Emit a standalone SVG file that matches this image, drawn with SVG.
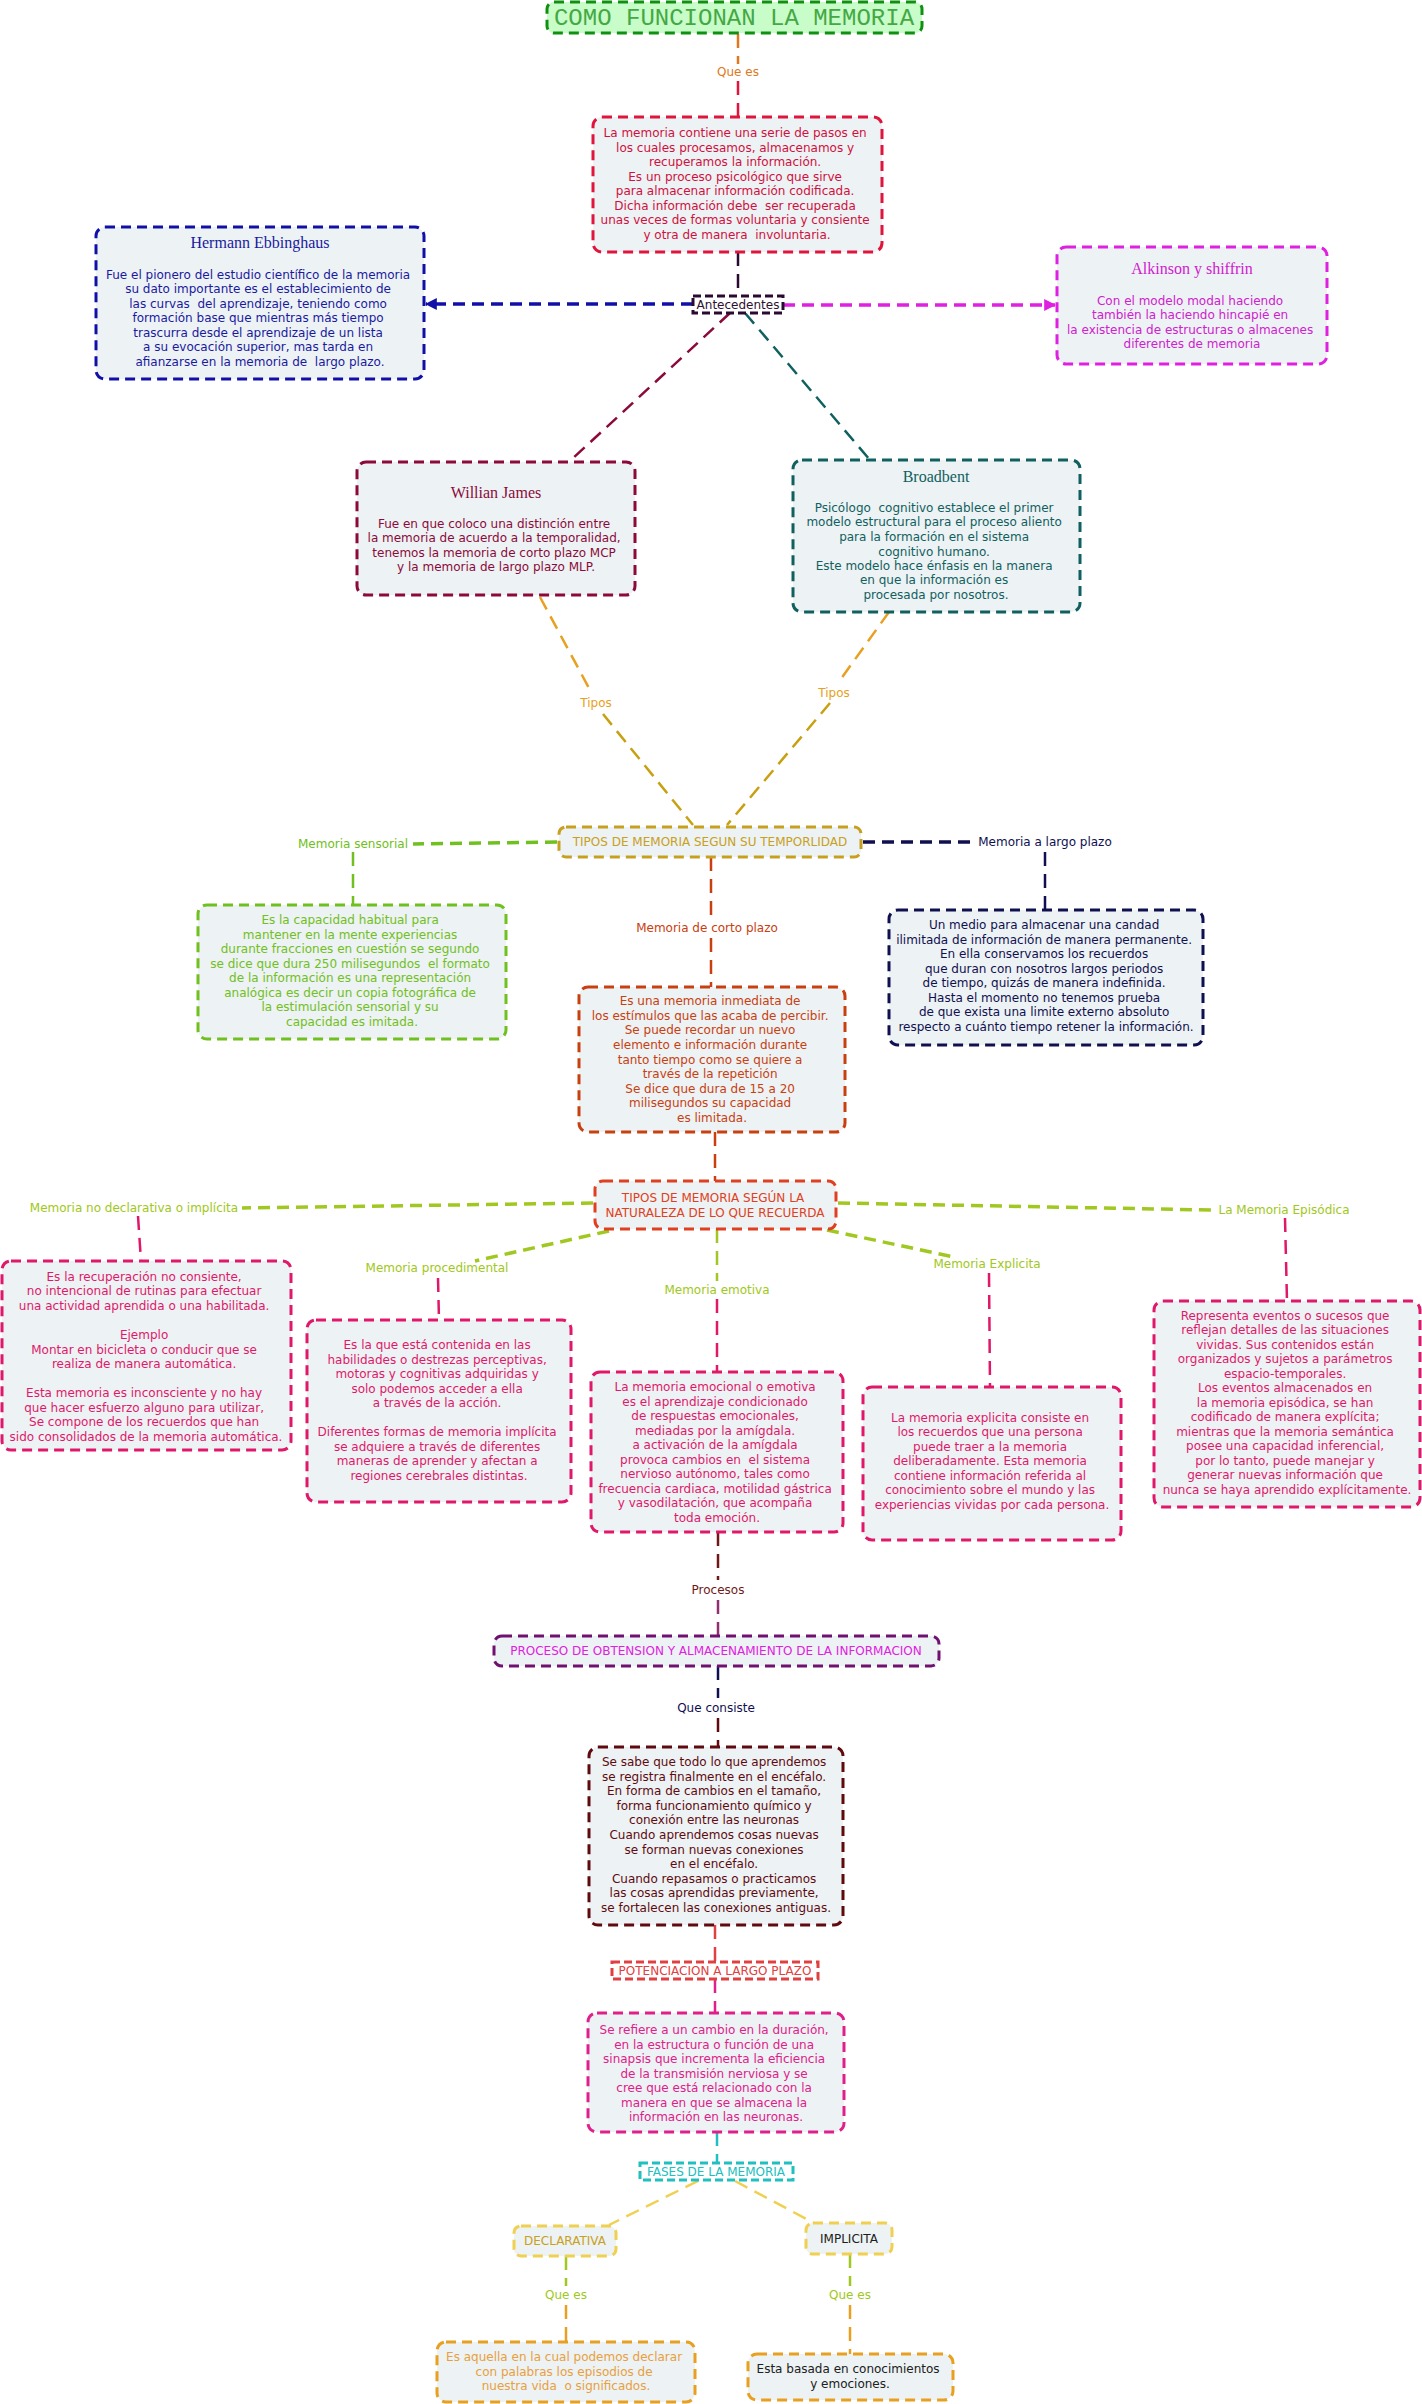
<svg xmlns="http://www.w3.org/2000/svg" width="1422" height="2404" viewBox="0 0 1422 2404">
<defs>
<style>
.box{fill:#edf2f4;stroke-width:3;stroke-dasharray:10 6}
.t{font-family:"DejaVu Sans",Verdana,sans-serif;font-size:12px;text-anchor:middle}
.h{font-family:"Liberation Serif","Times New Roman",serif;font-size:16px;text-anchor:middle}
.c{fill:none;stroke-width:2.5;stroke-dasharray:14 8}
.ct{fill:none;stroke-width:3.5;stroke-dasharray:12 7}
</style>
<marker id="arB" viewBox="0 0 10 10" refX="9" refY="5" markerWidth="12" markerHeight="12" markerUnits="userSpaceOnUse" orient="auto"><path d="M0,0 L10,5 L0,10 z" fill="#1010a8"/></marker>
<marker id="arM" viewBox="0 0 10 10" refX="9" refY="5" markerWidth="12" markerHeight="12" markerUnits="userSpaceOnUse" orient="auto"><path d="M0,0 L10,5 L0,10 z" fill="#e020e0"/></marker>
</defs>
<rect x="0" y="0" width="1422" height="2404" fill="#ffffff"/>

<g id="connectors">
<line class="c" x1="738" y1="34" x2="738" y2="64" stroke="#e07820"/>
<line class="c" x1="738" y1="81" x2="738" y2="117" stroke="#e0143c"/>
<line class="c" x1="738" y1="252" x2="738" y2="296" stroke="#2a0a30"/>
<line class="ct" x1="693" y1="304" x2="426" y2="304" stroke="#1010a8" marker-end="url(#arB)"/>
<line class="ct" x1="783" y1="305" x2="1055" y2="305" stroke="#e020e0" marker-end="url(#arM)"/>
<line class="c" x1="730" y1="313" x2="571" y2="460" stroke="#8b0a3a"/>
<line class="c" x1="745" y1="313" x2="870" y2="460" stroke="#106060"/>
<line class="c" x1="540" y1="597" x2="590" y2="690" stroke="#e8a020"/>
<line class="c" x1="603" y1="714" x2="693" y2="825" stroke="#c8a010"/>
<line class="c" x1="889" y1="612" x2="838" y2="683" stroke="#e8a020"/>
<line class="c" x1="830" y1="703" x2="727" y2="825" stroke="#c8a010"/>
<line class="ct" x1="557" y1="842" x2="413" y2="844" stroke="#70c020"/>
<line class="c" x1="353" y1="852" x2="353" y2="905" stroke="#70c020"/>
<line class="ct" x1="863" y1="842" x2="974" y2="842" stroke="#101050"/>
<line class="c" x1="1045" y1="852" x2="1045" y2="910" stroke="#101050"/>
<line class="c" x1="711" y1="857" x2="711" y2="918" stroke="#c84010"/>
<line class="c" x1="711" y1="938" x2="711" y2="987" stroke="#c84010"/>
<line class="c" x1="715" y1="1132" x2="715" y2="1181" stroke="#c84010"/>
<line class="ct" x1="593" y1="1203" x2="242" y2="1208" stroke="#a0c820"/>
<line class="c" x1="138" y1="1216" x2="141" y2="1261" stroke="#e0186a"/>
<line class="ct" x1="609" y1="1231" x2="475" y2="1261" stroke="#a0c820"/>
<line class="c" x1="438" y1="1278" x2="439" y2="1320" stroke="#e0186a"/>
<line class="c" x1="717" y1="1229" x2="717" y2="1281" stroke="#a0c820"/>
<line class="c" x1="717" y1="1299" x2="717" y2="1372" stroke="#e0186a"/>
<line class="ct" x1="827" y1="1230" x2="954" y2="1257" stroke="#a0c820"/>
<line class="c" x1="989" y1="1273" x2="990" y2="1387" stroke="#e0186a"/>
<line class="ct" x1="838" y1="1203" x2="1211" y2="1210" stroke="#a0c820"/>
<line class="c" x1="1285" y1="1218" x2="1287" y2="1301" stroke="#e0186a"/>
<line class="c" x1="718" y1="1532" x2="718" y2="1580" stroke="#701818"/>
<line class="c" x1="718" y1="1600" x2="718" y2="1636" stroke="#903070"/>
<line class="c" x1="718" y1="1666" x2="718" y2="1698" stroke="#101050"/>
<line class="c" x1="718" y1="1718" x2="718" y2="1747" stroke="#600a10"/>
<line class="c" x1="715" y1="1925" x2="715" y2="1962" stroke="#e04040"/>
<line class="c" x1="715" y1="1979" x2="715" y2="2013" stroke="#e0208a"/>
<line class="c" x1="717" y1="2132" x2="717" y2="2163" stroke="#20c0c0"/>
<line class="c" x1="698" y1="2181" x2="609" y2="2225" stroke="#f0d050"/>
<line class="c" x1="735" y1="2181" x2="814" y2="2223" stroke="#f0d050"/>
<line class="c" x1="566" y1="2256" x2="566" y2="2286" stroke="#a0c820"/>
<line class="c" x1="566" y1="2305" x2="566" y2="2342" stroke="#e8a020"/>
<line class="c" x1="850" y1="2254" x2="850" y2="2286" stroke="#a0c820"/>
<line class="c" x1="850" y1="2305" x2="850" y2="2354" stroke="#e8a020"/>
<text class="t" x="738" y="76" fill="#e07820">Que es</text>
<text class="t" x="596" y="707" fill="#e8a020">Tipos</text>
<text class="t" x="834" y="697" fill="#e8a020">Tipos</text>
<text class="t" x="353" y="848" fill="#70c020">Memoria sensorial</text>
<text class="t" x="1045" y="846" fill="#101050">Memoria a largo plazo</text>
<text class="t" x="707" y="932" fill="#c84010">Memoria de corto plazo</text>
<text class="t" x="134" y="1212" fill="#a0c820">Memoria no declarativa o implícita</text>
<text class="t" x="437" y="1272" fill="#a0c820">Memoria procedimental</text>
<text class="t" x="717" y="1294" fill="#a0c820">Memoria emotiva</text>
<text class="t" x="987" y="1268" fill="#a0c820">Memoria Explicita</text>
<text class="t" x="1284" y="1214" fill="#a0c820">La Memoria Episódica</text>
<text class="t" x="718" y="1594" fill="#701818">Procesos</text>
<text class="t" x="716" y="1712" fill="#101050">Que consiste</text>
<text class="t" x="566" y="2299" fill="#a0c820">Que es</text>
<text class="t" x="850" y="2299" fill="#a0c820">Que es</text>
</g>

<g id="title">
<rect x="547" y="2" width="375" height="31" rx="7" fill="#c8fcc8" stroke="#109010" stroke-width="3" stroke-dasharray="10 6"/>
<text x="734" y="25" font-family="'Liberation Mono','Courier New',monospace" font-size="24" text-anchor="middle" fill="#44a844">COMO FUNCIONAN LA MEMORIA</text>
</g>

<g id="memoria-def">
<rect class="box" x="593" y="117" width="289" height="135" rx="9" stroke="#e0143c"/>
<text class="t" fill="#d01040">
<tspan x="737" y="137">La memoria contiene una serie de pasos en</tspan>
<tspan x="737" y="152">los cuales procesamos, almacenamos y</tspan>
<tspan x="737" y="166">recuperamos la información.</tspan>
<tspan x="737" y="181">Es un proceso psicológico que sirve</tspan>
<tspan x="737" y="195">para almacenar información codificada.</tspan>
<tspan x="737" y="210">Dicha información debe&#160; ser recuperada</tspan>
<tspan x="737" y="224">unas veces de formas voluntaria y consiente</tspan>
<tspan x="737" y="239">y otra de manera&#160; involuntaria.</tspan>
</text>
</g>

<g id="antecedentes">
<rect x="693" y="296" width="90" height="17" fill="#ffffff" stroke="#2a0a30" stroke-width="3" stroke-dasharray="8 4"/>
<text class="t" x="738" y="309" fill="#301030">Antecedentes</text>
</g>

<g id="hermann">
<rect class="box" x="96" y="227" width="328" height="152" rx="9" stroke="#1010a8"/>
<text class="h" x="260" y="248" fill="#1a1aa0">Hermann Ebbinghaus</text>
<text class="t" fill="#1a1aa0">
<tspan x="260" y="279">Fue el pionero del estudio científico de la memoria</tspan>
<tspan x="260" y="293">su dato importante es el establecimiento de</tspan>
<tspan x="260" y="308">las curvas&#160; del aprendizaje, teniendo como</tspan>
<tspan x="260" y="322">formación base que mientras más tiempo</tspan>
<tspan x="260" y="337">trascurra desde el aprendizaje de un lista</tspan>
<tspan x="260" y="351">a su evocación superior, mas tarda en</tspan>
<tspan x="260" y="366">afianzarse en la memoria de&#160; largo plazo.</tspan>
</text>
</g>

<g id="alkinson">
<rect class="box" x="1057" y="247" width="270" height="117" rx="9" stroke="#e020e0"/>
<text class="h" x="1192" y="274" fill="#d020d0">Alkinson y shiffrin</text>
<text class="t" fill="#d020d0">
<tspan x="1192" y="305">Con el modelo modal haciendo</tspan>
<tspan x="1192" y="319">también la haciendo hincapié en</tspan>
<tspan x="1192" y="334">la existencia de estructuras o almacenes</tspan>
<tspan x="1192" y="348">diferentes de memoria</tspan>
</text>
</g>

<g id="willian">
<rect class="box" x="357" y="462" width="278" height="133" rx="9" stroke="#8b0a3a"/>
<text class="h" x="496" y="498" fill="#8b0a3a">Willian James</text>
<text class="t" fill="#8b0a3a">
<tspan x="496" y="528">Fue en que coloco una distinción entre</tspan>
<tspan x="496" y="542">la memoria de acuerdo a la temporalidad,</tspan>
<tspan x="496" y="557">tenemos la memoria de corto plazo MCP</tspan>
<tspan x="496" y="571">y la memoria de largo plazo MLP.</tspan>
</text>
</g>

<g id="broadbent">
<rect class="box" x="793" y="460" width="287" height="152" rx="9" stroke="#106060"/>
<text class="h" x="936" y="482" fill="#106060">Broadbent</text>
<text class="t" fill="#106060">
<tspan x="936" y="512">Psicólogo&#160; cognitivo establece el primer</tspan>
<tspan x="936" y="526">modelo estructural para el proceso aliento</tspan>
<tspan x="936" y="541">para la formación en el sistema</tspan>
<tspan x="936" y="556">cognitivo humano.</tspan>
<tspan x="936" y="570">Este modelo hace énfasis en la manera</tspan>
<tspan x="936" y="584">en que la información es</tspan>
<tspan x="936" y="599">procesada por nosotros.</tspan>
</text>
</g>

<g id="tipos-temporalidad">
<rect class="box" x="559" y="827" width="302" height="30" rx="7" stroke="#c8a020"/>
<text class="t" x="710" y="846" fill="#c8a020">TIPOS DE MEMORIA SEGUN SU TEMPORLIDAD</text>
</g>

<g id="sensorial">
<rect class="box" x="198" y="905" width="308" height="134" rx="9" stroke="#70c020"/>
<text class="t" fill="#70c020">
<tspan x="352" y="924">Es la capacidad habitual para</tspan>
<tspan x="352" y="939">mantener en la mente experiencias</tspan>
<tspan x="352" y="953">durante fracciones en cuestión se segundo</tspan>
<tspan x="352" y="968">se dice que dura 250 milisegundos&#160; el formato</tspan>
<tspan x="352" y="982">de la información es una representación</tspan>
<tspan x="352" y="997">analógica es decir un copia fotográfica de</tspan>
<tspan x="352" y="1011">la estimulación sensorial y su</tspan>
<tspan x="352" y="1026">capacidad es imitada.</tspan>
</text>
</g>

<g id="largo-plazo">
<rect class="box" x="889" y="910" width="314" height="135" rx="9" stroke="#101050"/>
<text class="t" fill="#101050">
<tspan x="1046" y="929">Un medio para almacenar una candad</tspan>
<tspan x="1046" y="944">ilimitada de información de manera permanente.</tspan>
<tspan x="1046" y="958">En ella conservamos los recuerdos</tspan>
<tspan x="1046" y="973">que duran con nosotros largos periodos</tspan>
<tspan x="1046" y="987">de tiempo, quizás de manera indefinida.</tspan>
<tspan x="1046" y="1002">Hasta el momento no tenemos prueba</tspan>
<tspan x="1046" y="1016">de que exista una limite externo absoluto</tspan>
<tspan x="1046" y="1031">respecto a cuánto tiempo retener la información.</tspan>
</text>
</g>

<g id="corto-plazo">
<rect class="box" x="579" y="987" width="266" height="145" rx="9" stroke="#c84010"/>
<text class="t" fill="#c84010">
<tspan x="712" y="1005">Es una memoria inmediata de</tspan>
<tspan x="712" y="1020">los estímulos que las acaba de percibir.</tspan>
<tspan x="712" y="1034">Se puede recordar un nuevo</tspan>
<tspan x="712" y="1049">elemento e información durante</tspan>
<tspan x="712" y="1064">tanto tiempo como se quiere a</tspan>
<tspan x="712" y="1078">través de la repetición</tspan>
<tspan x="712" y="1093">Se dice que dura de 15 a 20</tspan>
<tspan x="712" y="1107">milisegundos su capacidad</tspan>
<tspan x="712" y="1122">es limitada.</tspan>
</text>
</g>

<g id="tipos-naturaleza">
<rect class="box" x="595" y="1181" width="241" height="48" rx="8" stroke="#e04020"/>
<text class="t" fill="#e04020">
<tspan x="715" y="1202">TIPOS DE MEMORIA SEGÚN LA</tspan>
<tspan x="715" y="1217">NATURALEZA DE LO QUE RECUERDA</tspan>
</text>
</g>

<g id="no-declarativa">
<rect class="box" x="2" y="1261" width="289" height="189" rx="9" stroke="#e0186a"/>
<text class="t" fill="#e0186a">
<tspan x="146" y="1281">Es la recuperación no consiente,</tspan>
<tspan x="146" y="1295">no intencional de rutinas para efectuar</tspan>
<tspan x="146" y="1310">una actividad aprendida o una habilitada.</tspan>
<tspan x="146" y="1339">Ejemplo</tspan>
<tspan x="146" y="1354">Montar en bicicleta o conducir que se</tspan>
<tspan x="146" y="1368">realiza de manera automática.</tspan>
<tspan x="146" y="1397">Esta memoria es inconsciente y no hay</tspan>
<tspan x="146" y="1412">que hacer esfuerzo alguno para utilizar,</tspan>
<tspan x="146" y="1426">Se compone de los recuerdos que han</tspan>
<tspan x="146" y="1441">sido consolidados de la memoria automática.</tspan>
</text>
</g>

<g id="procedimental">
<rect class="box" x="307" y="1320" width="264" height="182" rx="9" stroke="#e0186a"/>
<text class="t" fill="#e0186a">
<tspan x="439" y="1349">Es la que está contenida en las</tspan>
<tspan x="439" y="1364">habilidades o destrezas perceptivas,</tspan>
<tspan x="439" y="1378">motoras y cognitivas adquiridas y</tspan>
<tspan x="439" y="1393">solo podemos acceder a ella</tspan>
<tspan x="439" y="1407">a través de la acción.</tspan>
<tspan x="439" y="1436">Diferentes formas de memoria implícita</tspan>
<tspan x="439" y="1451">se adquiere a través de diferentes</tspan>
<tspan x="439" y="1465">maneras de aprender y afectan a</tspan>
<tspan x="439" y="1480">regiones cerebrales distintas.</tspan>
</text>
</g>

<g id="emotiva">
<rect class="box" x="591" y="1372" width="252" height="160" rx="9" stroke="#e0186a"/>
<text class="t" fill="#e0186a">
<tspan x="717" y="1391">La memoria emocional o emotiva</tspan>
<tspan x="717" y="1406">es el aprendizaje condicionado</tspan>
<tspan x="717" y="1420">de respuestas emocionales,</tspan>
<tspan x="717" y="1435">mediadas por la amígdala.</tspan>
<tspan x="717" y="1449">a activación de la amígdala</tspan>
<tspan x="717" y="1464">provoca cambios en&#160; el sistema</tspan>
<tspan x="717" y="1478">nervioso autónomo, tales como</tspan>
<tspan x="717" y="1493">frecuencia cardiaca, motilidad gástrica</tspan>
<tspan x="717" y="1507">y vasodilatación, que acompaña</tspan>
<tspan x="717" y="1522">toda emoción.</tspan>
</text>
</g>

<g id="explicita">
<rect class="box" x="863" y="1387" width="258" height="153" rx="9" stroke="#e0186a"/>
<text class="t" fill="#e0186a">
<tspan x="992" y="1422">La memoria explicita consiste en</tspan>
<tspan x="992" y="1436">los recuerdos que una persona</tspan>
<tspan x="992" y="1451">puede traer a la memoria</tspan>
<tspan x="992" y="1465">deliberadamente. Esta memoria</tspan>
<tspan x="992" y="1480">contiene información referida al</tspan>
<tspan x="992" y="1494">conocimiento sobre el mundo y las</tspan>
<tspan x="992" y="1509">experiencias vividas por cada persona.</tspan>
</text>
</g>

<g id="episodica">
<rect class="box" x="1154" y="1301" width="266" height="206" rx="9" stroke="#e0186a"/>
<text class="t" fill="#e0186a">
<tspan x="1287" y="1320">Representa eventos o sucesos que</tspan>
<tspan x="1287" y="1334">reflejan detalles de las situaciones</tspan>
<tspan x="1287" y="1349">vividas. Sus contenidos están</tspan>
<tspan x="1287" y="1363">organizados y sujetos a parámetros</tspan>
<tspan x="1287" y="1378">espacio-temporales.</tspan>
<tspan x="1287" y="1392">Los eventos almacenados en</tspan>
<tspan x="1287" y="1407">la memoria episódica, se han</tspan>
<tspan x="1287" y="1421">codificado de manera explícita;</tspan>
<tspan x="1287" y="1436">mientras que la memoria semántica</tspan>
<tspan x="1287" y="1450">posee una capacidad inferencial,</tspan>
<tspan x="1287" y="1465">por lo tanto, puede manejar y</tspan>
<tspan x="1287" y="1479">generar nuevas información que</tspan>
<tspan x="1287" y="1494">nunca se haya aprendido explícitamente.</tspan>
</text>
</g>

<g id="proceso">
<rect class="box" x="494" y="1636" width="445" height="30" rx="8" stroke="#701070"/>
<text class="t" x="716" y="1655" fill="#e020e0">PROCESO DE OBTENSION Y ALMACENAMIENTO DE LA INFORMACION</text>
</g>

<g id="que-consiste">
<rect class="box" x="589" y="1747" width="254" height="178" rx="9" stroke="#600a10"/>
<text class="t" fill="#600a10">
<tspan x="716" y="1766">Se sabe que todo lo que aprendemos</tspan>
<tspan x="716" y="1781">se registra finalmente en el encéfalo.</tspan>
<tspan x="716" y="1795">En forma de cambios en el tamaño,</tspan>
<tspan x="716" y="1810">forma funcionamiento químico y</tspan>
<tspan x="716" y="1824">conexión entre las neuronas</tspan>
<tspan x="716" y="1839">Cuando aprendemos cosas nuevas</tspan>
<tspan x="716" y="1854">se forman nuevas conexiones</tspan>
<tspan x="716" y="1868">en el encéfalo.</tspan>
<tspan x="716" y="1883">Cuando repasamos o practicamos</tspan>
<tspan x="716" y="1897">las cosas aprendidas previamente,</tspan>
<tspan x="716" y="1912">se fortalecen las conexiones antiguas.</tspan>
</text>
</g>

<g id="potenciacion">
<rect x="612" y="1962" width="206" height="17" fill="#ffffff" stroke="#e04040" stroke-width="3" stroke-dasharray="8 4"/>
<text class="t" x="715" y="1975" fill="#e04040">POTENCIACION A LARGO PLAZO</text>
</g>

<g id="potenciacion-def">
<rect class="box" x="588" y="2013" width="256" height="119" rx="9" stroke="#e0208a"/>
<text class="t" fill="#e0208a">
<tspan x="716" y="2034">Se refiere a un cambio en la duración,</tspan>
<tspan x="716" y="2049">en la estructura o función de una</tspan>
<tspan x="716" y="2063">sinapsis que incrementa la eficiencia</tspan>
<tspan x="716" y="2078">de la transmisión nerviosa y se</tspan>
<tspan x="716" y="2092">cree que está relacionado con la</tspan>
<tspan x="716" y="2107">manera en que se almacena la</tspan>
<tspan x="716" y="2121">información en las neuronas.</tspan>
</text>
</g>

<g id="fases">
<rect x="640" y="2163" width="153" height="17" fill="#ffffff" stroke="#20c0c0" stroke-width="3" stroke-dasharray="8 4"/>
<text class="t" x="716" y="2176" fill="#20c0c0">FASES DE LA MEMORIA</text>
</g>

<g id="declarativa">
<rect class="box" x="514" y="2226" width="102" height="30" rx="7" stroke="#f0d050"/>
<text class="t" x="565" y="2245" fill="#c8a020">DECLARATIVA</text>
</g>

<g id="implicita">
<rect class="box" x="806" y="2223" width="86" height="31" rx="7" stroke="#f0d050"/>
<text class="t" x="849" y="2243" fill="#202020">IMPLICITA</text>
</g>

<g id="declarativa-def">
<rect class="box" x="437" y="2342" width="258" height="60" rx="9" stroke="#e8a020"/>
<text class="t" fill="#e8a040">
<tspan x="566" y="2361">Es aquella en la cual podemos declarar</tspan>
<tspan x="566" y="2376">con palabras los episodios de</tspan>
<tspan x="566" y="2390">nuestra vida&#160; o significados.</tspan>
</text>
</g>

<g id="implicita-def">
<rect class="box" x="748" y="2354" width="205" height="46" rx="9" stroke="#e8a020"/>
<text class="t" fill="#202020">
<tspan x="850" y="2373">Esta basada en conocimientos</tspan>
<tspan x="850" y="2388">y emociones.</tspan>
</text>
</g>
</svg>
